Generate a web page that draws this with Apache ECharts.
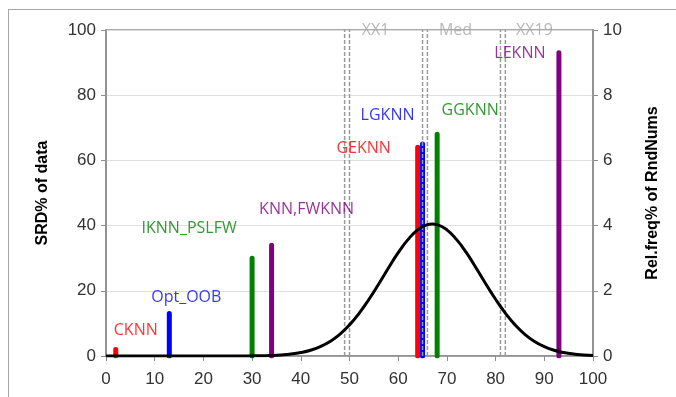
<!DOCTYPE html>
<html>
<head>
    <title>SRD vs RndNums</title>
    <script src="https://cdnjs.cloudflare.com/ajax/libs/echarts/6.0.0/echarts.min.js"></script>
    <style>
        body { margin: 0; background: #fff; }
        .wrap { position: relative; width: 676px; height: 397px; }
        #chart { width: 676px; height: 397px; }
        .frame {
            position: absolute; left: 8px; top: 9px; right: 0; bottom: 0;
            border-left: 1.5px solid #a6a6a6; border-top: 1.5px solid #a6a6a6;
            pointer-events: none;
        }
    </style>
</head>
<body>
    <div class="wrap">
        <div id="chart"></div>
        <div class="frame"></div>
    </div>
    <script>
        // methods (thick vertical bars, left axis)
        const methods = ['CKNN', 'Opt_OOB', 'IKNN_PSLFW', 'KNN,FWKNN', 'GEKNN', 'LGKNN', 'GGKNN', 'LEKNN'];
        const methodX = [2, 13, 30, 34, 64, 65, 68, 93];
        const methodSRD = [2, 13, 30, 34, 64, 65, 68, 93];
        const methodColors = ['#ff0000', '#0000ff', '#008000', '#800080', '#ff0000', '#0000ff', '#008000', '#800080'];
        const labelOffsets = [[20, -19], [17, -16], [-63, -30], [35, -36], [-54, 1], [-35, -29], [33, -24], [-39, 1]];

        // reference dashed lines (pairs)
        const refNames = ['XX1', 'Med', 'XX19'];
        const refLeft = [49, 65, 81];
        const refRight = [50, 66, 82];
        const refLabelOffsets = [31, 33, 34];

        // relative frequency curve (right axis)
        const curveX = [0, 2, 4, 6, 8, 10, 12, 14, 16, 18, 20, 22, 24, 26, 28, 30, 32, 34, 36, 38, 40,
            42, 44, 46, 48, 50, 52, 54, 56, 58, 60, 62, 64, 66, 67, 68, 70, 72, 74, 76, 78, 80,
            82, 84, 86, 88, 90, 92, 94, 96, 98, 100];
        const curveFreq = [0, 0, 0, 0, 0, 0, 0, 0, 0, 0, 0, 0, 0, 0, 0, 0.004, 0.009, 0.017, 0.033, 0.06, 0.106,
            0.178, 0.287, 0.447, 0.666, 0.955, 1.315, 1.74, 2.21, 2.70, 3.17, 3.57, 3.87, 4.03, 4.05, 4.03, 3.87, 3.57,
            3.17, 2.70, 2.21, 1.74, 1.315, 0.955, 0.666, 0.447, 0.287, 0.178, 0.106, 0.06, 0.033, 0.017];

        const labelFont = '"Open Sans", "Noto Sans", sans-serif';
        const axisFont = '"Liberation Sans", Arial, sans-serif';
        const chart = echarts.init(document.getElementById('chart'));

        const series = [];

        methods.forEach((name, i) => {
            series.push({
                name: name,
                type: 'line',
                yAxisIndex: 0,
                data: [[methodX[i], 0], [methodX[i], methodSRD[i]]],
                symbol: 'none',
                lineStyle: { color: methodColors[i], width: 5, cap: 'round' },
                z: 3,
                silent: true
            });
        });

        // method labels
        series.push({
            type: 'scatter',
            yAxisIndex: 0,
            symbolSize: 0,
            z: 6,
            data: methods.map((name, i) => ({
                value: [methodX[i], methodSRD[i]],
                label: {
                    show: true,
                    position: 'inside',
                    formatter: name,
                    offset: labelOffsets[i],
                    color: methodColors[i],
                    fontSize: 16,
                    fontFamily: labelFont
                }
            }))
        });

        refNames.forEach((name, i) => {
            [refLeft[i], refRight[i]].forEach(x => {
                series.push({
                    type: 'line',
                    yAxisIndex: 0,
                    data: [[x, 0], [x, 100]],
                    symbol: 'none',
                    lineStyle: { color: '#9a9a9a', width: 1.5, type: [4, 2] },
                    z: 4,
                    silent: true
                });
            });
        });

        series.push({
            type: 'scatter',
            yAxisIndex: 0,
            symbolSize: 0,
            z: 6,
            data: refNames.map((name, i) => ({
                value: [refLeft[i], 100],
                label: {
                    show: true,
                    position: 'inside',
                    formatter: name,
                    offset: [refLabelOffsets[i], 0],
                    color: '#a6a6a6',
                    fontSize: 16,
                    fontFamily: labelFont
                }
            }))
        });

        series.push({
            name: 'Rel.freq',
            type: 'line',
            yAxisIndex: 1,
            smooth: true,
            symbol: 'none',
            data: curveX.map((x, i) => [x, curveFreq[i]]),
            lineStyle: { color: '#000', width: 3 },
            z: 5,
            silent: true
        });

        const axisTxt = { color: '#333', fontSize: 17, fontFamily: axisFont };
        const axisLine = { show: true, lineStyle: { color: '#8c8c8c', width: 1.5 } };
        const axisTick = { show: true, length: 5, lineStyle: { color: '#8c8c8c', width: 1 } };
        const nameStyle = { color: '#000', fontSize: 16, fontWeight: 'bold', fontFamily: axisFont };

        chart.setOption({
            animation: false,
            grid: {
                left: 106, right: 83, top: 30, bottom: 41,
                show: true, borderColor: '#8c8c8c', borderWidth: 1.5
            },
            xAxis: {
                type: 'value',
                min: 0, max: 100, interval: 10,
                axisLine: axisLine,
                axisTick: axisTick,
                axisLabel: Object.assign({ margin: 9 }, axisTxt),
                splitLine: { show: false }
            },
            yAxis: [
                {
                    type: 'value',
                    min: 0, max: 100, interval: 20,
                    name: 'SRD% of data',
                    nameLocation: 'middle',
                    nameRotate: 90,
                    nameGap: 50,
                    nameTextStyle: nameStyle,
                    axisLine: axisLine,
                    axisTick: axisTick,
                    axisLabel: Object.assign({ margin: 10 }, axisTxt),
                    splitLine: { show: true, lineStyle: { color: '#e0e0e0', width: 1 } }
                },
                {
                    type: 'value',
                    min: 0, max: 10, interval: 2,
                    position: 'right',
                    name: 'Rel.freq% of RndNums',
                    nameLocation: 'middle',
                    nameRotate: 90,
                    nameGap: 46,
                    nameTextStyle: nameStyle,
                    axisLine: axisLine,
                    axisTick: axisTick,
                    axisLabel: Object.assign({ margin: 10 }, axisTxt),
                    splitLine: { show: false }
                }
            ],
            series: series
        });
    </script>
</body>
</html>
